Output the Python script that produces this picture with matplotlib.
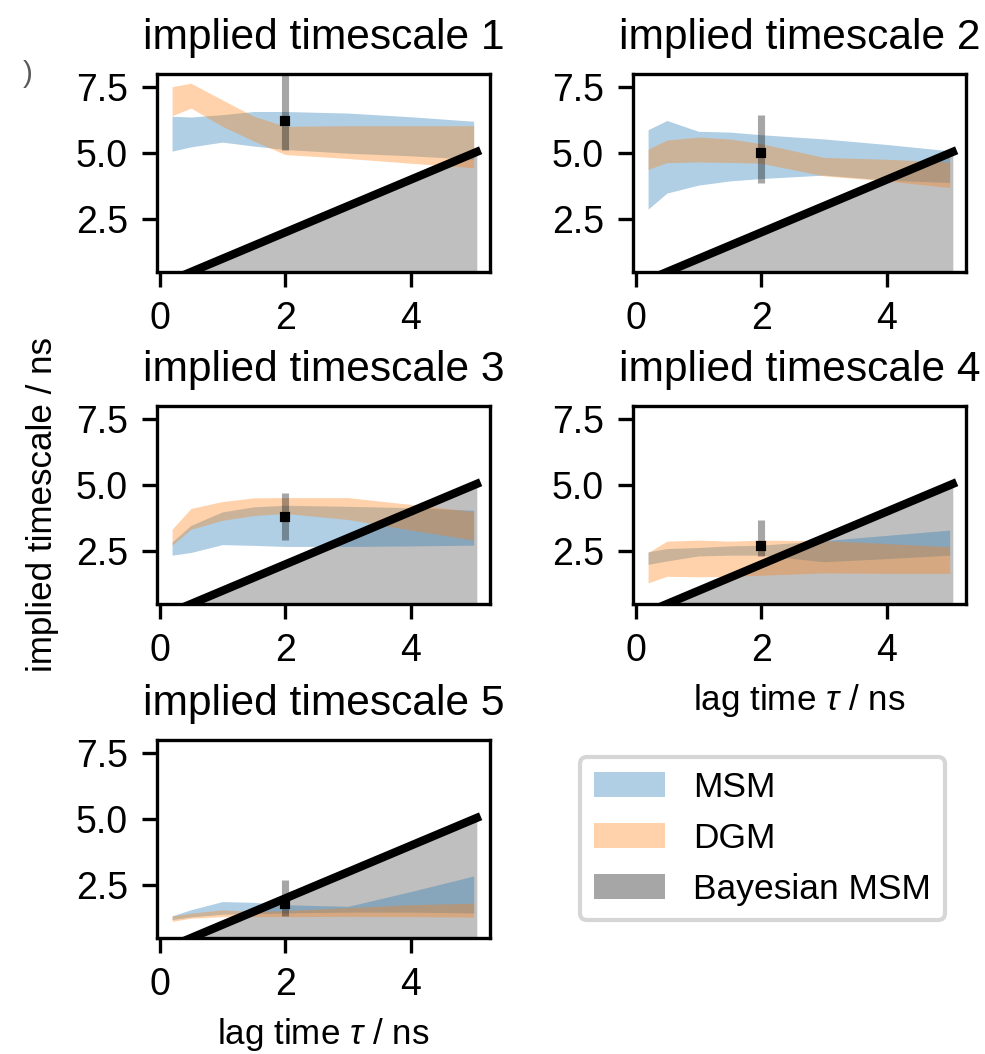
import matplotlib.pyplot as plt

plt.rcParams['font.family'] = ['Liberation Sans', 'DejaVu Sans']
plt.rcParams['font.size'] = 8.4
plt.rcParams['xtick.labelsize'] = 9
plt.rcParams['ytick.labelsize'] = 9
plt.rcParams['mathtext.fontset'] = 'custom'
plt.rcParams['mathtext.it'] = 'Liberation Sans:italic'
plt.rcParams['mathtext.rm'] = 'Liberation Sans'

# lag times (ns) where the models were estimated
lag = [0.2, 0.5, 1.0, 1.5, 2.0, 3.0, 4.0, 5.0]
# lag-time line / gray "unresolved" region
tau_line = [0.0, 5.05]

# MSM confidence bands, one list per timescale
msm_lo = [
    [5.08, 5.24, 5.42, 5.27, 5.14, 5.00, 4.90, 4.77],
    [2.88, 3.49, 3.79, 3.95, 4.04, 4.17, 3.98, 3.89],
    [2.35, 2.45, 2.75, 2.72, 2.68, 2.68, 2.70, 2.73],
    [2.00, 2.13, 2.32, 2.35, 2.35, 2.10, 2.22, 2.35],
    [1.20, 1.30, 1.40, 1.42, 1.45, 1.48, 1.48, 1.45],
]
msm_hi = [
    [6.40, 6.37, 6.46, 6.58, 6.58, 6.52, 6.38, 6.21],
    [5.89, 6.24, 5.83, 5.80, 5.70, 5.54, 5.33, 5.09],
    [2.85, 3.48, 3.99, 4.18, 4.24, 4.20, 4.15, 4.05],
    [2.48, 2.60, 2.64, 2.70, 2.73, 2.90, 3.10, 3.30],
    [1.34, 1.57, 1.88, 1.85, 1.76, 1.70, 2.26, 2.85],
]
# DGM confidence bands
dgm_lo = [
    [6.42, 6.71, 6.02, 5.46, 4.95, 4.80, 4.62, 4.45],
    [4.39, 4.64, 4.67, 4.65, 4.62, 4.14, 3.95, 3.70],
    [2.73, 3.33, 3.67, 3.85, 3.93, 3.70, 3.30, 2.92],
    [1.30, 1.55, 1.53, 1.55, 1.59, 1.68, 1.66, 1.66],
    [1.13, 1.25, 1.31, 1.31, 1.31, 1.32, 1.31, 1.29],
]
dgm_hi = [
    [7.52, 7.65, 7.02, 6.40, 6.02, 6.04, 6.04, 6.04],
    [5.15, 5.50, 5.61, 5.54, 5.36, 4.84, 4.77, 4.67],
    [3.33, 4.12, 4.38, 4.52, 4.53, 4.53, 4.27, 4.00],
    [2.45, 2.88, 2.92, 2.88, 2.92, 2.90, 2.79, 2.67],
    [1.34, 1.44, 1.57, 1.50, 1.54, 1.65, 1.76, 1.82],
]
# Bayesian MSM at lag 2 ns
bmsm_lag = 2.0
bmsm_mean = [6.21, 4.99, 3.78, 2.68, 1.78]
bmsm_lo = [5.14, 3.89, 2.92, 2.31, 1.34]
bmsm_hi = [8.50, 6.46, 4.72, 3.67, 2.70]

W, H = 985, 1054
fig = plt.figure(figsize=(W / 300, H / 300), dpi=300)

lefts = [157, 633]
tops = [74, 406, 740]
aw, ah = 333, 198

for i in range(5):
    r, c = divmod(i, 2)
    ax = fig.add_axes([lefts[c] / W, 1 - (tops[r] + ah) / H, aw / W, ah / H])
    ax.fill_between(tau_line, 0, tau_line, color='k', alpha=0.25, lw=0)
    ax.fill_between(lag, msm_lo[i], msm_hi[i], color='C0', alpha=0.35, lw=0)
    ax.fill_between(lag, dgm_lo[i], dgm_hi[i], color='C1', alpha=0.35, lw=0)
    ax.plot(tau_line, tau_line, color='k', lw=2)
    ax.errorbar(bmsm_lag, bmsm_mean[i],
                yerr=[[bmsm_mean[i] - bmsm_lo[i]], [bmsm_hi[i] - bmsm_mean[i]]],
                fmt='none', ecolor='k', alpha=0.35, elinewidth=1.7)
    ax.plot(bmsm_lag, bmsm_mean[i], marker='s', ms=1.35, color='k', lw=0)
    ax.set_xlim(-0.04, 5.26)
    ax.set_ylim(0.5, 8.0)
    ax.set_xticks([0, 2, 4])
    ax.set_yticks([2.5, 5.0, 7.5])
    ax.set_title('implied timescale %d' % (i + 1), fontsize=10.2)
    if i == 2:
        ax.set_ylabel('implied timescale / ns')
    if i >= 3:
        ax.set_xlabel(r'lag time $\tau$ / ns', labelpad=3)

handles = [
    plt.Rectangle((0, 0), 1, 1, color='C0', alpha=0.35, lw=0),
    plt.Rectangle((0, 0), 1, 1, color='C1', alpha=0.35, lw=0),
    plt.Rectangle((0, 0), 1, 1, color='k', alpha=0.35, lw=0),
]
fig.legend(handles, ['MSM', 'DGM', 'Bayesian MSM'], loc='upper left',
           bbox_to_anchor=(580 / W, 1 - 757 / H), borderaxespad=0, fontsize=8.5)

fig.text(23 / W, 1 - 74 / H, ')', fontsize=7, color='0.35', va='center')

fig.savefig('out.png', dpi=300)
